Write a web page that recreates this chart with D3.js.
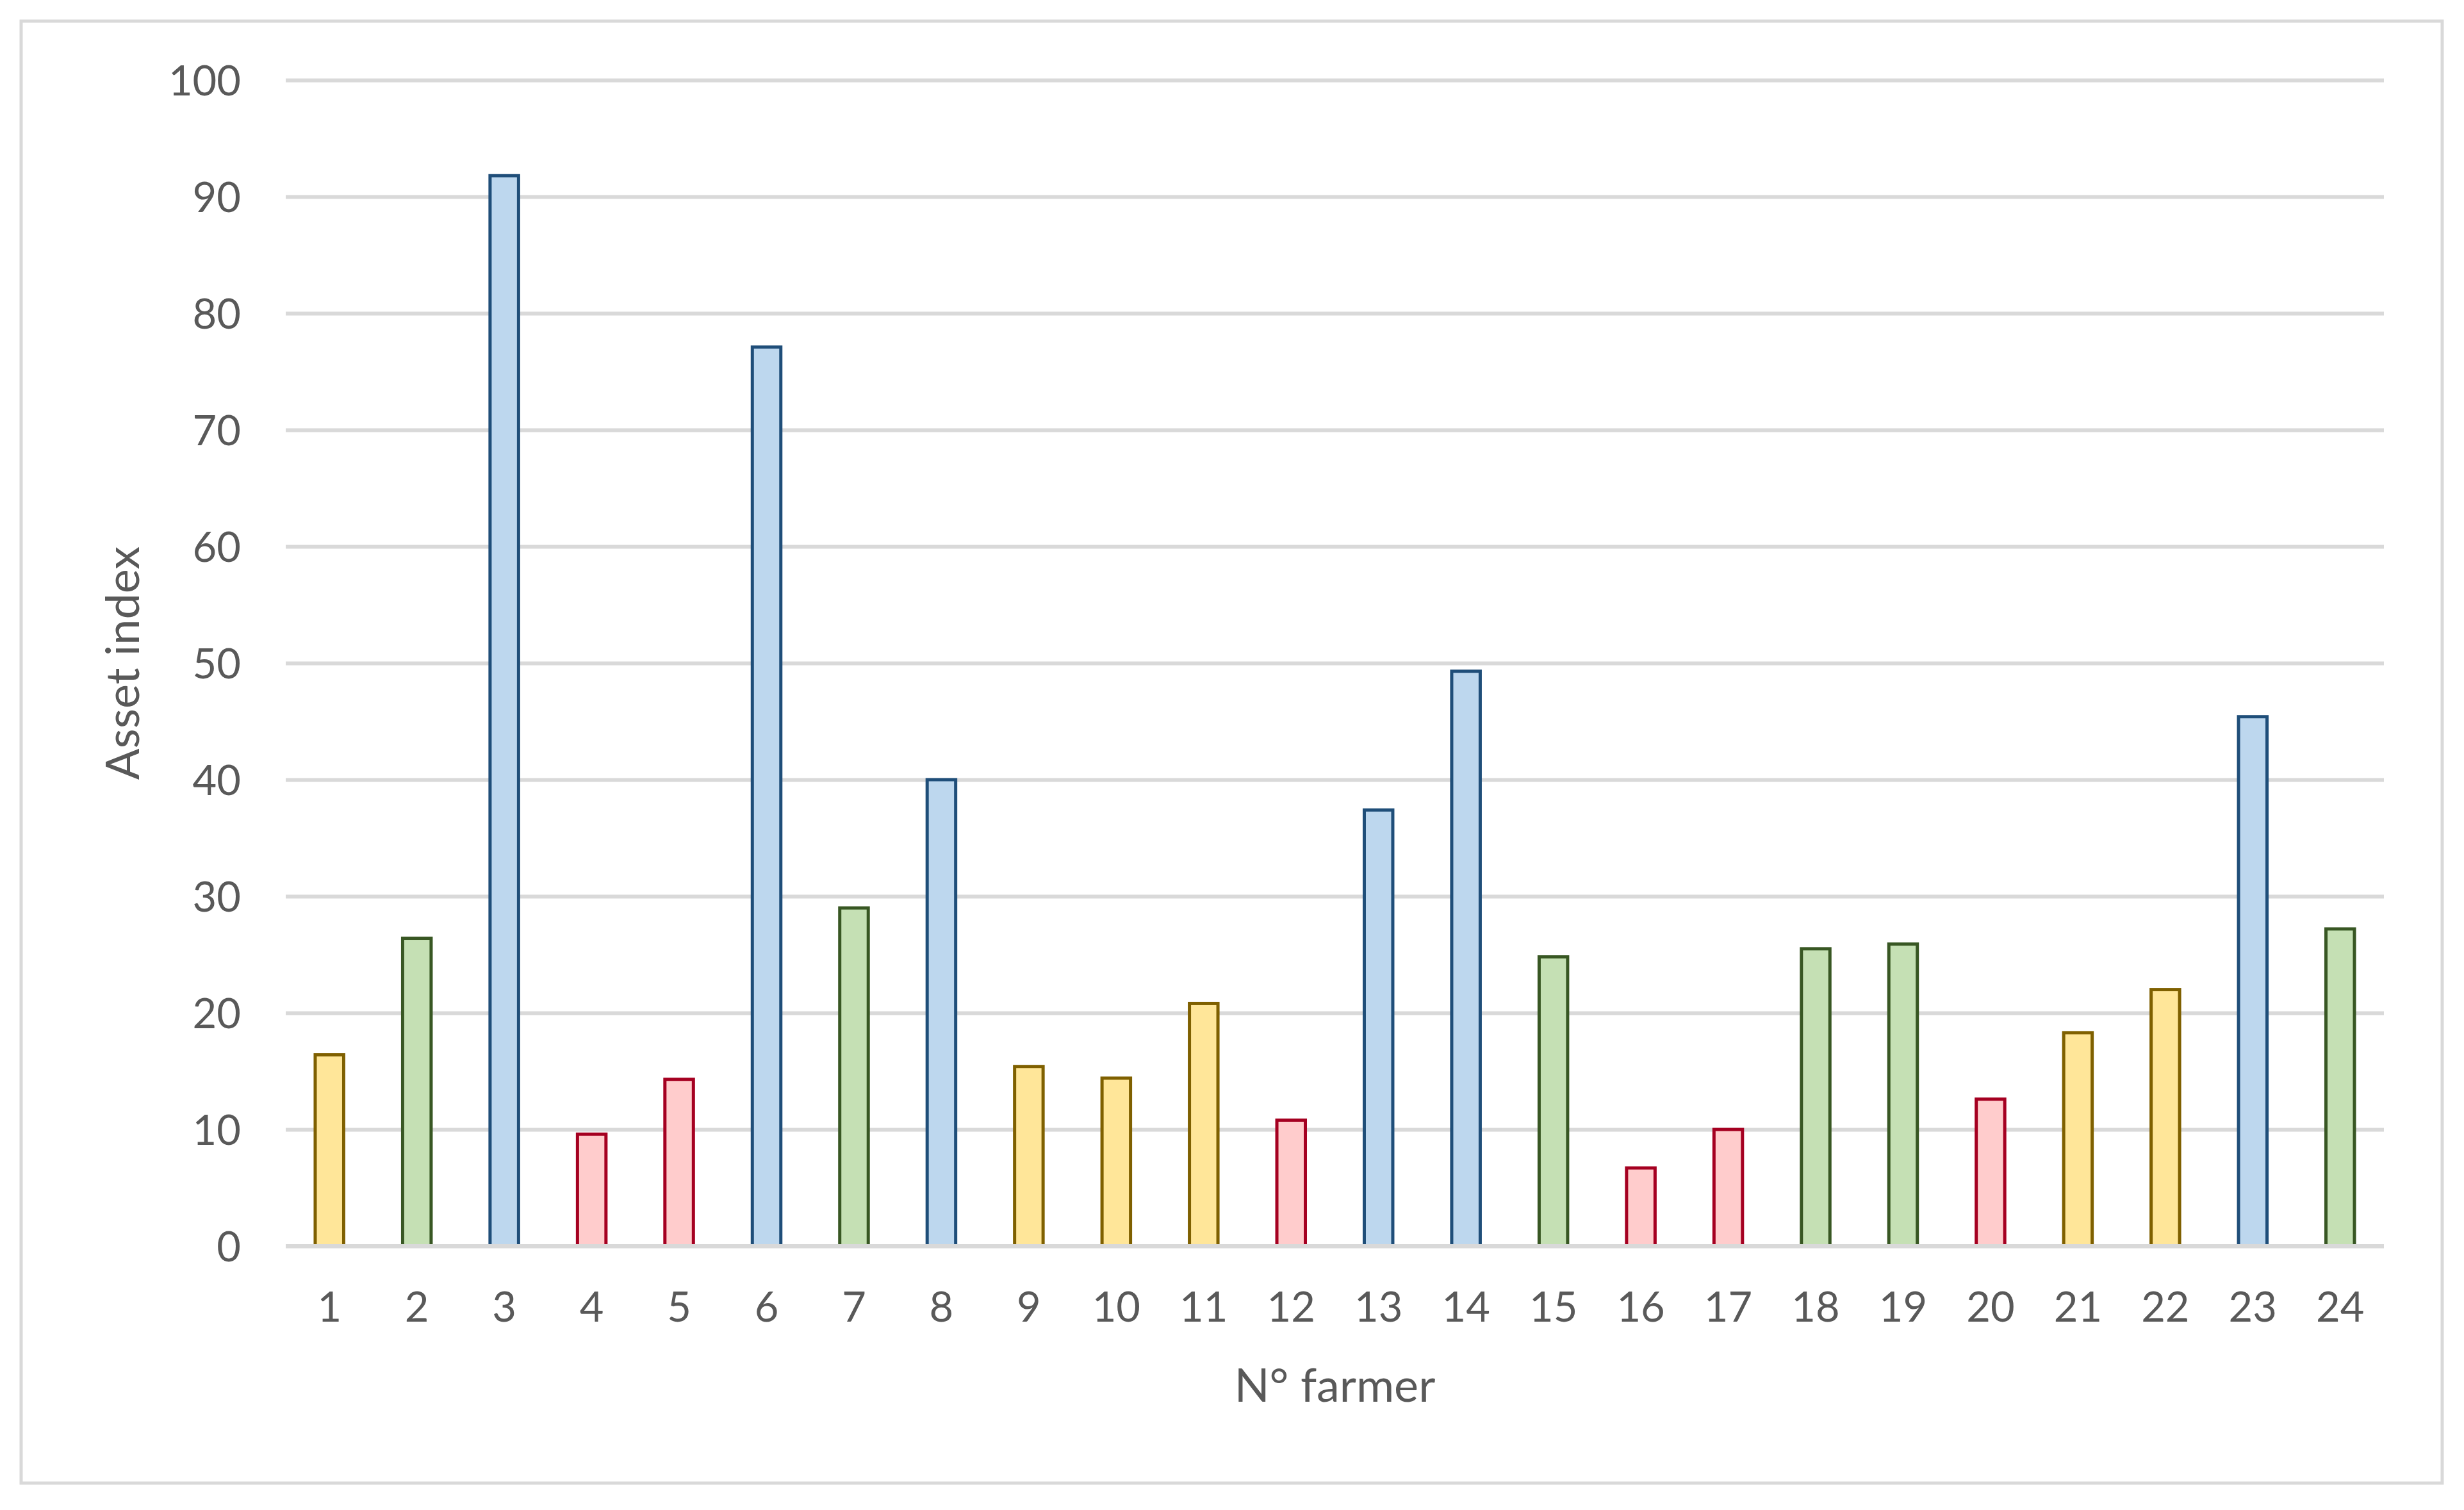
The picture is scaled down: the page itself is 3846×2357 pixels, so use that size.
<!DOCTYPE html>
<html>
<head>
<meta charset="utf-8">
<script src="https://cdn.jsdelivr.net/npm/d3@7"></script>
<style>
  body { margin: 0; background: #fff; }
  text { font-family: Lato, "Open Sans", sans-serif; fill: #595959; }
</style>
</head>
<body>
<div id="chart"></div>
<script>
// Data
const farmers = ["1","2","3","4","5","6","7","8","9","10","11","12","13","14","15","16","17","18","19","20","21","22","23","24"];
const assetIndex = [16.4, 26.4, 91.8, 9.6, 14.3, 77.1, 29.0, 40.0, 15.4, 14.4, 20.8, 10.8, 37.4, 49.3, 24.8, 6.7, 10.0, 25.5, 25.9, 12.6, 18.3, 22.0, 45.4, 27.2];
const groups = ["Y","G","B","R","R","B","G","B","Y","Y","Y","R","B","B","G","R","R","G","G","R","Y","Y","B","G"];
const yTicks = [0, 10, 20, 30, 40, 50, 60, 70, 80, 90, 100];

const fills = { Y: "#FFE699", G: "#C5E0B4", B: "#BDD7EE", R: "#FFCCCC" };
const strokes = { Y: "#7F6000", G: "#385723", B: "#1F4E79", R: "#A50021" };

// Dimensions
const W = 3846, H = 2357;
const plot = { left: 446, right: 3721, top: 125, bottom: 1945 };

const svg = d3.select("#chart").append("svg")
    .attr("width", W)
    .attr("height", H);

svg.append("rect")
    .attr("width", W).attr("height", H)
    .attr("fill", "#fff");

// Outer frame
svg.append("rect")
    .attr("x", 33).attr("y", 33)
    .attr("width", 3779).attr("height", 2282)
    .attr("fill", "none")
    .attr("stroke", "#d9d9d9")
    .attr("stroke-width", 5);

// Scales
const x = d3.scaleBand()
    .domain(farmers)
    .range([plot.left, plot.right])
    .paddingInner(0.674)
    .paddingOuter(0.337);

const y = d3.scaleLinear()
    .domain([0, 100])
    .range([plot.bottom, plot.top]);

// Y axis with gridlines
const yAxis = svg.append("g")
    .attr("transform", `translate(${plot.left},0)`)
    .call(d3.axisLeft(y).tickValues(yTicks).tickSize(-(plot.right - plot.left)).tickPadding(70));

yAxis.select(".domain").remove();
yAxis.selectAll(".tick line")
    .attr("stroke", "#d9d9d9")
    .attr("stroke-width", 6);
yAxis.selectAll(".tick text")
    .attr("font-size", 65)
    .attr("dy", "0.36em")
    .style("font-family", "Lato, 'Open Sans', sans-serif")
    .attr("fill", "#595959");

// Bars
svg.selectAll(".bar")
    .data(farmers)
    .enter().append("rect")
    .attr("class", "bar")
    .attr("x", d => x(d))
    .attr("y", (d, i) => y(assetIndex[i]))
    .attr("width", x.bandwidth())
    .attr("height", (d, i) => y(0) - y(assetIndex[i]))
    .attr("fill", (d, i) => fills[groups[i]])
    .attr("stroke", (d, i) => strokes[groups[i]])
    .attr("stroke-width", 5);

// Horizontal axis line on top of bars
svg.append("line")
    .attr("x1", plot.left).attr("x2", plot.right)
    .attr("y1", y(0)).attr("y2", y(0))
    .attr("stroke", "#d9d9d9")
    .attr("stroke-width", 6);

// X axis labels
const xAxis = svg.append("g")
    .attr("transform", `translate(0,${plot.bottom})`)
    .call(d3.axisBottom(x).tickSize(0));

xAxis.select(".domain").remove();
xAxis.selectAll(".tick text")
    .attr("y", 118)
    .attr("dy", null)
    .attr("font-size", 65)
    .style("font-family", "Lato, 'Open Sans', sans-serif")
    .attr("fill", "#595959");

// Axis titles
svg.append("text")
    .attr("x", (plot.left + plot.right) / 2)
    .attr("y", 2188)
    .attr("text-anchor", "middle")
    .attr("font-size", 72)
    .text("N° farmer");

svg.append("text")
    .attr("transform", `translate(217,${(plot.top + plot.bottom) / 2}) rotate(-90)`)
    .attr("text-anchor", "middle")
    .attr("font-size", 72)
    .text("Asset index");
</script>
</body>
</html>
